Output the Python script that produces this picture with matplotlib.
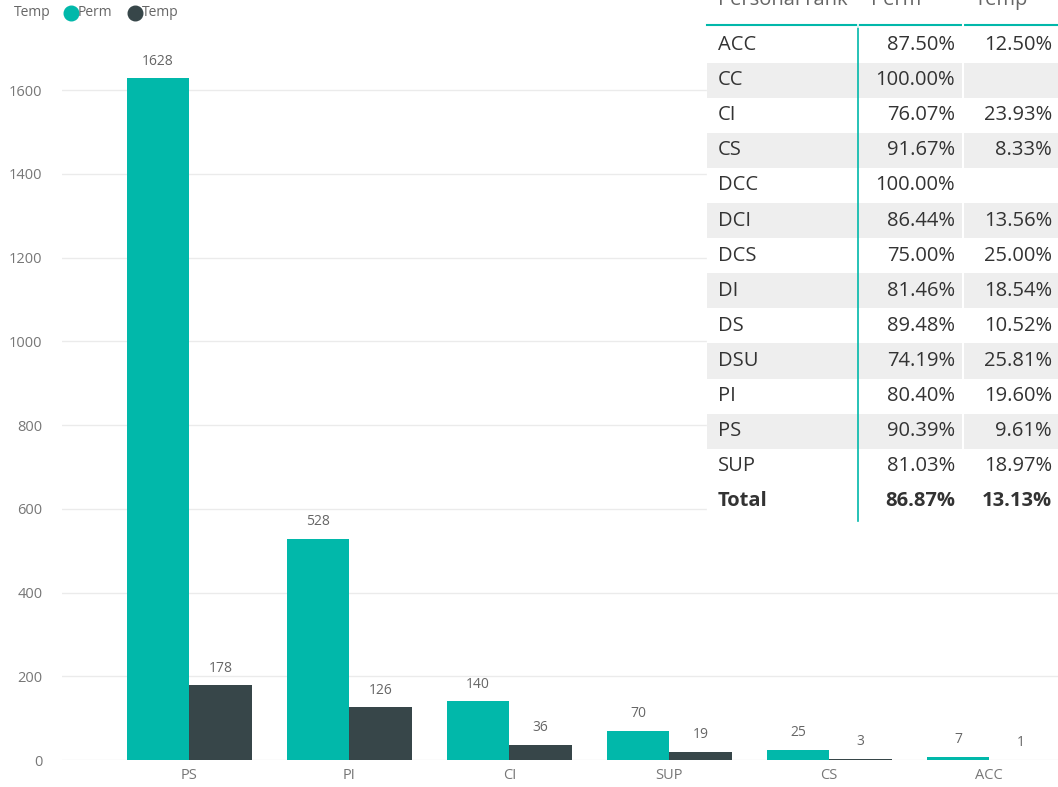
import matplotlib
matplotlib.use("Agg")
import matplotlib.pyplot as plt
from matplotlib.patches import Rectangle

# ---------------- data ----------------
categories = ["PS", "PI", "CI", "SUP", "CS", "ACC"]
perm_counts = [1628, 528, 140, 70, 25, 7]
temp_counts = [178, 126, 36, 19, 3, 1]
y_ticks = [0, 200, 400, 600, 800, 1000, 1200, 1400, 1600]

table_ranks = ["ACC", "CC", "CI", "CS", "DCC", "DCI", "DCS", "DI", "DS", "DSU", "PI", "PS", "SUP"]
table_perm = ["87.50%", "100.00%", "76.07%", "91.67%", "100.00%", "86.44%", "75.00%",
              "81.46%", "89.48%", "74.19%", "80.40%", "90.39%", "81.03%"]
table_temp = ["12.50%", "", "23.93%", "8.33%", "", "13.56%", "25.00%",
              "18.54%", "10.52%", "25.81%", "19.60%", "9.61%", "18.97%"]
total_perm = "86.87%"
total_temp = "13.13%"
table_headers = ["Personal rank", "Perm", "Temp"]

TEAL = "#01B8AA"
DARK = "#374649"
FONT = "Open Sans"

W, H = 1058, 787
fig = plt.figure(figsize=(W / 100, H / 100), dpi=100)

# ---------------- bar chart ----------------
ax = fig.add_axes([62 / W, 27 / H, (W - 62) / W, (760 - 20) / H])
x = list(range(len(categories)))
bw = 0.39
ax.bar([i - bw / 2 for i in x], perm_counts, width=bw, color=TEAL, zorder=2)
ax.bar([i + bw / 2 for i in x], temp_counts, width=bw, color=DARK, zorder=2)
for i in x:
    ax.annotate(str(perm_counts[i]), (i - bw / 2, perm_counts[i]), xytext=(0, 7),
                textcoords="offset points", ha="center", va="bottom",
                fontsize=10, color="#666666", family=FONT)
    ax.annotate(str(temp_counts[i]), (i + bw / 2, temp_counts[i]), xytext=(0, 7),
                textcoords="offset points", ha="center", va="bottom",
                fontsize=10, color="#666666", family=FONT)

ax.set_xlim(-0.796, 5.43)
ax.set_ylim(0, (760 - 20) / 0.41875)
ax.set_yticks(y_ticks)
ax.set_xticks(x)
ax.set_xticklabels(categories)
for sp in ax.spines.values():
    sp.set_visible(False)
ax.yaxis.grid(True, color="#ebebeb", lw=1, zorder=0)
ax.tick_params(axis="both", length=0, labelsize=10.5, labelcolor="#777777")
ax.tick_params(axis="y", pad=14)
ax.tick_params(axis="x", pad=6)
for lab in ax.get_xticklabels() + ax.get_yticklabels():
    lab.set_family(FONT)

# ---------------- overlay (legend + table) ----------------
ov = fig.add_axes([0, 0, 1, 1], zorder=5)
ov.set_xlim(0, W)
ov.set_ylim(H, 0)
ov.axis("off")
ov.patch.set_alpha(0)

# legend
ov.text(14, 13, "Temp", fontsize=10, color="#666666", family=FONT, va="center", ha="left")
ov.plot([71], [13], "o", ms=10.5, color=TEAL)
ov.text(78, 13, "Perm", fontsize=10, color="#666666", family=FONT, va="center", ha="left")
ov.plot([135], [13], "o", ms=10.5, color=DARK)
ov.text(142, 13, "Temp", fontsize=10, color="#666666", family=FONT, va="center", ha="left")

# table
tx0, tx1 = 707, W
row_h = 35.1
row0 = 27.5
n_rows = len(table_ranks) + 1
ov.add_patch(Rectangle((tx0, 0), tx1 - tx0, row0 + n_rows * row_h + 7, color="white", zorder=1))
for i in range(len(table_ranks)):
    if i % 2 == 1:
        ov.add_patch(Rectangle((tx0, row0 + i * row_h), tx1 - tx0, row_h,
                               color="#eeeeee", zorder=2, lw=0))
ov.plot([963, 963], [22, row0 + n_rows * row_h], color="white", lw=1.5, zorder=5)
ov.plot([tx0, tx1], [25, 25], color=TEAL, lw=1.5, zorder=4)
ov.plot([858, 858], [27, row0 + n_rows * row_h + 2], color=TEAL, lw=1.2, zorder=4)
ov.plot([858, 858], [22, 27], color="white", lw=1.2, zorder=5)

hdr_kw = dict(fontsize=14.5, color="#666666", family=FONT, va="baseline", zorder=5)
ov.text(718, 5, table_headers[0], ha="left", **hdr_kw)
ov.text(921, 5, table_headers[1], ha="right", **hdr_kw)
ov.text(1028, 5, table_headers[2], ha="right", **hdr_kw)

cell_kw = dict(fontsize=14.5, color="#333333", family=FONT, va="center", zorder=5)
for i, (r, p, t) in enumerate(zip(table_ranks, table_perm, table_temp)):
    yc = row0 + (i + 0.5) * row_h
    ov.text(718, yc, r, ha="left", **cell_kw)
    ov.text(955, yc, p, ha="right", **cell_kw)
    ov.text(1052, yc, t, ha="right", **cell_kw)
yc = row0 + (len(table_ranks) + 0.5) * row_h
ov.text(718, yc, "Total", ha="left", fontweight="bold", **cell_kw)
ov.text(955, yc, total_perm, ha="right", fontweight="bold", **cell_kw)
ov.text(1052, yc, total_temp, ha="right", fontweight="bold", **cell_kw)

fig.savefig("out.png", dpi=100)
